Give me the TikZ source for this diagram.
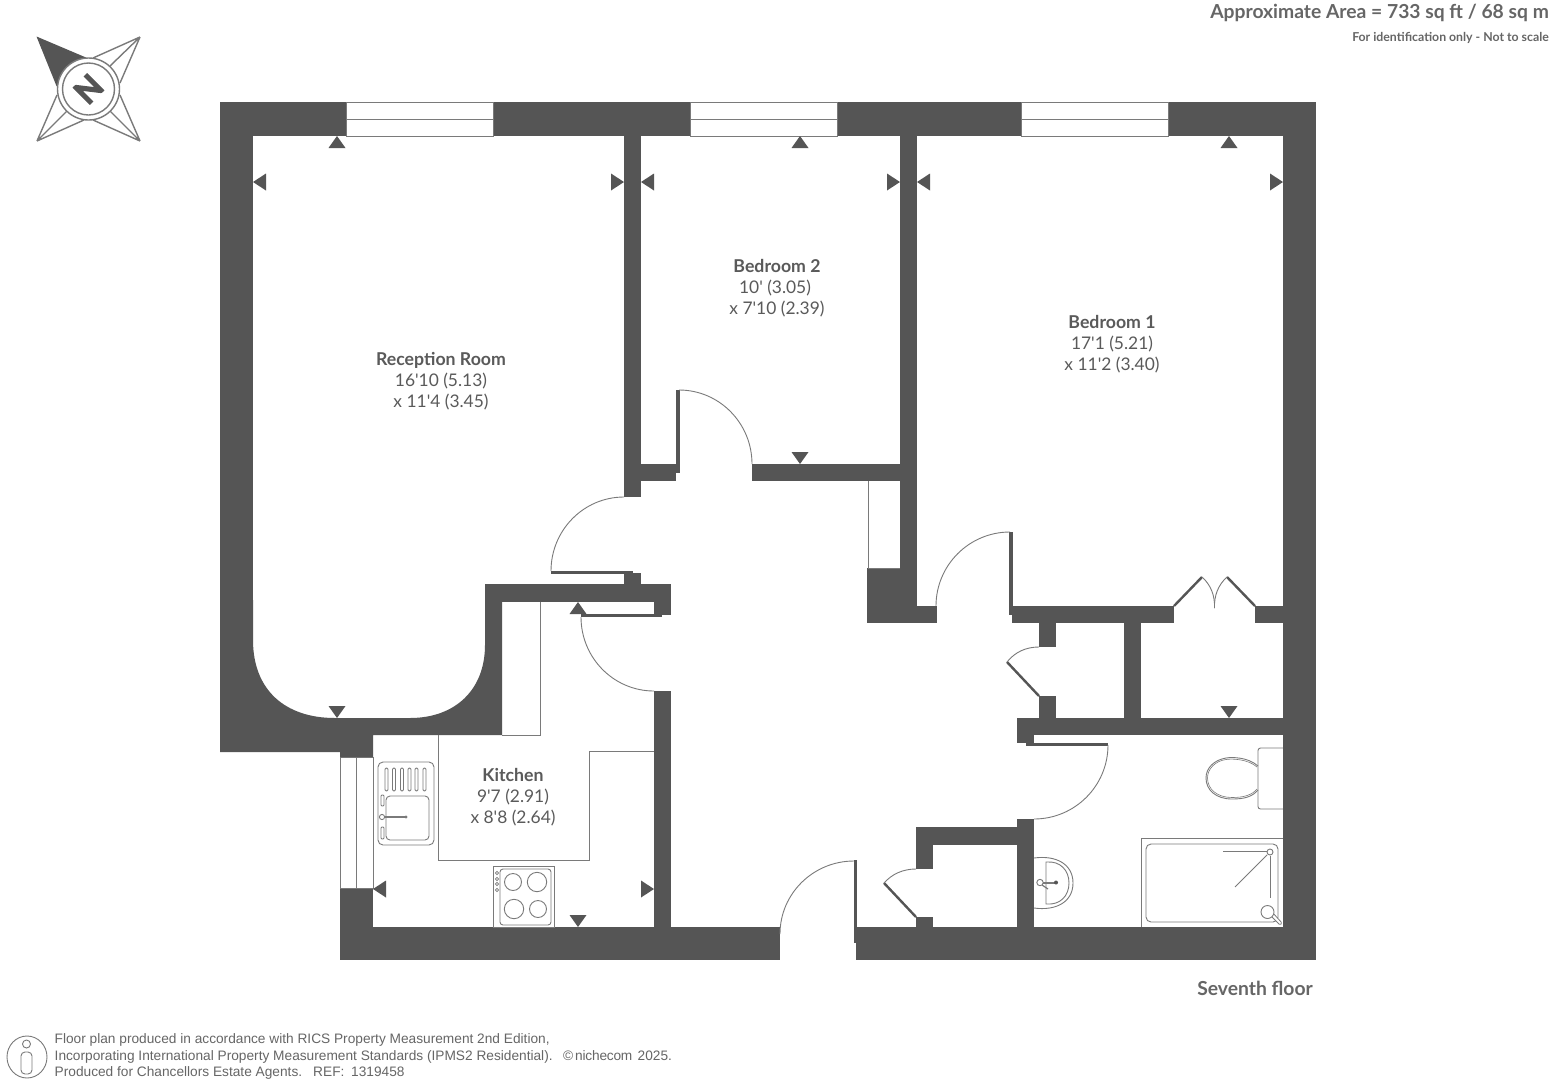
\documentclass[tikz,border=0pt]{standalone}
\usepackage{fontspec}
\usetikzlibrary{calc}
\newfontfamily\latofont{Lato}
\newfontfamily\arialfont{Liberation Sans}
\definecolor{wallc}{HTML}{555555}
\definecolor{linec}{HTML}{7A7A7A}
\definecolor{textc}{HTML}{5A5A5A}
\definecolor{foot}{HTML}{666666}
\newcommand{\wallrect}[2]{\fill[wallc] (#1) rectangle (#2);}
\newcommand{\triU}[2]{\fill[wallc] (#1,#2) -- ++(-8.5,12) -- ++(17,0) -- cycle;}
\newcommand{\triD}[2]{\fill[wallc] (#1,#2) -- ++(-8.5,-12) -- ++(17,0) -- cycle;}
\newcommand{\triL}[2]{\fill[wallc] (#1,#2) -- ++(13,-8.5) -- ++(0,17) -- cycle;}
\newcommand{\triR}[2]{\fill[wallc] (#1,#2) -- ++(-13,-8.5) -- ++(0,17) -- cycle;}
\newcommand{\qarc}[3]{\draw[fine] (#1) .. controls ($(#1)!0.5523!(#2)$) and ($(#3)!0.5523!(#2)$) .. (#3);}
\newcommand{\winh}[2]{\draw[fine,fill=white] (#1,102) rectangle (#2,136); \draw[fine] (#1,119) -- (#2,119);}
\tikzset{
  fine/.style={draw=linec,line width=0.9pt},
  comp/.style={draw=linec,line width=1.4pt,line join=round},
  leaf/.style={draw=wallc,line width=2.4pt},
  rname/.style={font=\latofont\bfseries\fontsize{17.7}{19}\selectfont,text=textc,inner sep=0pt,anchor=base},
  rdim/.style={font=\latofont\fontsize{17.4}{19}\selectfont,text=textc,inner sep=0pt,anchor=base},
  footnote/.style={font=\arialfont\fontsize{13.7}{15}\selectfont,text=foot,inner sep=0pt,anchor=base west},
}
\begin{document}
\begin{tikzpicture}[x=1pt,y=-1pt]
\useasboundingbox (0,0) rectangle (1553,1085);
\fill[white] (0,0) rectangle (1553,1085);

% compass
\fill[wallc] (36.5,36.5) -- (86,57.5) -- (88.5,89) -- (56.5,86) -- cycle;
\draw[comp] (140,37) -- (93,58) (140,37) -- (120,83) (140,37) -- (110,66)
  (37,141) -- (57,95) (37,141) -- (84,120) (37,141) -- (67,111)
  (140,141) -- (93,120) (140,141) -- (120,95) (140,141) -- (110,111);
\draw[comp,fill=white] (88.5,89) circle[radius=31pt];
\draw[comp] (88.5,89) circle[radius=26pt];
\node[rotate=45,text=wallc,font=\latofont\bfseries\fontsize{32}{32}\selectfont\addfontfeature{FakeBold=4},inner sep=0pt] (north) at (88.5,89) {N};

% outer and long walls
\wallrect{220,102}{346,136}
\wallrect{493,102}{690,136}
\wallrect{837,102}{1021,136}
\wallrect{1168,102}{1316,136}
\wallrect{220,102}{253,700}
\wallrect{1283,102}{1316,960}
\wallrect{340,927}{780,960}
\wallrect{856,927}{1316,960}
\wallrect{340,888}{373,960}
\winh{346}{493}
\winh{690}{837}
\winh{1021}{1168}
% kitchen window
\draw[fine] (340,757) rectangle (373,888);
\draw[fine] (356.5,757) -- (356.5,888);

% reception lower wall
\fill[wallc] (220,600) -- (253,600) -- (253,640)
  .. controls (253,690) and (285,718) .. (335,718) -- (410,718)
  .. controls (455,718) and (485,690) .. (485,645) -- (485,584) -- (502,584) -- (502,735)
  -- (373,735) -- (373,757) -- (340,757) -- (340,752) -- (220,752) -- cycle;

% partitions
\wallrect{624,136}{641,497}
\wallrect{900,136}{917,623}
\wallrect{641,464}{676,481}
\wallrect{676,390}{680,473}
\wallrect{752,464}{917,481}
\wallrect{867,568}{917,623}
\wallrect{900,606}{937,623}
\wallrect{1009,532}{1013,615}
\wallrect{1012,606}{1174,623}
\wallrect{1255,606}{1283,623}
\wallrect{1039,623}{1056,647}
\wallrect{1039,696}{1056,718}
\wallrect{1124,623}{1141,718}
\wallrect{1017,718}{1283,735}
\wallrect{1017,735}{1034,743}
\wallrect{1026,743}{1108,746}
\wallrect{1017,819}{1034,927}
\wallrect{916,827}{1017,845}
\wallrect{916,827}{933,869}
\wallrect{916,917}{933,927}
\wallrect{854,860}{857,943}
\wallrect{654,691}{671,927}
\wallrect{624,573}{641,584}
\wallrect{551,571}{633,574}
\wallrect{485,584}{671,602}
\wallrect{654,602}{671,615}
\wallrect{581,614}{662,617}
\draw[leaf] (1174,606) -- (1202,577);
\draw[leaf] (1255,606) -- (1227,577);
\draw[leaf] (1039,696) -- (1007,662);
\draw[leaf] (916,917) -- (884,883);

% door arcs
\qarc{624,497}{551,497}{551,571}
\qarc{679,390}{752,390}{752,464}
\qarc{581,617}{581,691}{654,691}
\qarc{936,606}{936,532}{1010,532}
\qarc{1108,745}{1108,819}{1034,819}
\qarc{854,861}{780,861}{780,934}
\draw[fine] (1007,662) .. controls (1015,652) and (1026,647) .. (1039,647);
\draw[fine] (884,883) .. controls (892,874) and (903,869) .. (916,869);
\draw[fine] (1202,577) .. controls (1211,585) and (1215,596) .. (1214.5,608);
\draw[fine] (1227,577) .. controls (1218,585) and (1214,596) .. (1214.5,608);

% cupboards and kitchen units
\draw[fine] (868,481) -- (868,568) -- (900,568);
\draw[fine] (540,602) -- (540,735) -- (502,735);
\draw[fine] (438,735) -- (438,860) -- (589,860) -- (589,751) -- (654,751);

% sink
\draw[fine,rounded corners=5pt] (378,762) rectangle (434,845);
\foreach \sx in {386.5,394,402,409.5,416.5,424.5}
  \draw[fine,rounded corners=1.3pt] (\sx-1.5,768) rectangle (\sx+1.5,791);
\draw[fine,rounded corners=4pt] (386,796) rectangle (429,840);
\draw[fine] (382,817) circle[radius=2.6pt];
\draw[fine,line width=1.4pt] (385,817) -- (406,817);
\fill[linec] (406,817) circle[radius=1.6pt];
\draw[fine,rounded corners=1pt] (381,795) rectangle (384,806);
\draw[fine,rounded corners=1pt] (381,827) rectangle (384,839);

% hob
\draw[fine] (493,866) rectangle (554,927);
\draw[fine,rounded corners=3pt] (500,869) rectangle (551,925);
\foreach \kx/\ky/\kr in {513/882/8.5,537/882/9.7,514/909/9.7,538/909/8.5}
  \draw[fine] (\kx,\ky) circle[radius=\kr pt];
\foreach \ky in {873,879,884,890}
  \draw[fine,line width=0.7pt] (497,\ky) circle[radius=1.7pt];

% toilet
\draw[fine,rounded corners=2.5pt] (1283,748) -- (1258,748) -- (1258,809) -- (1283,809);
\draw[fine] (1258,766) .. controls (1248,757) and (1232,757) .. (1226,758)
  .. controls (1214,760) and (1206,768) .. (1206,778)
  .. controls (1206,790) and (1216,799) .. (1232,799)
  .. controls (1244,799) and (1252,797) .. (1258,790);
\draw[fine,line width=0.6pt] (1257,767) .. controls (1248,759) and (1232,758.5) .. (1226,759.5)
  .. controls (1215,761) and (1207.5,769) .. (1207.5,778)
  .. controls (1207.5,789) and (1217,797.5) .. (1232,797.5)
  .. controls (1244,797.5) and (1252,795) .. (1257,789);

% bath
\draw[fine] (1141,927) -- (1141,838) -- (1283,838);
\draw[fine,rounded corners=5pt] (1146,844) rectangle (1278,922);
\draw[fine] (1270,852) circle[radius=3pt];
\draw[fine] (1223,851) -- (1267,851);
\draw[fine] (1267,855) -- (1235,887);
\draw[fine] (1270,856) -- (1270,898);
\draw[fine,fill=white,rounded corners=1pt,line width=0.8pt] (1271,916) -- (1280,925) -- (1282,923) -- (1273,913) -- cycle;
\draw[fine,fill=white] (1267.5,912) circle[radius=6.5pt];

% basin
\draw[fine] (1034,858) .. controls (1056,855) and (1073,864) .. (1073,883)
  .. controls (1073,902) and (1056,911) .. (1034,908);
\draw[fine] (1047,862) .. controls (1060,861) and (1069,870) .. (1069,883)
  .. controls (1069,896) and (1060,905) .. (1047,904) -- (1046,904) -- (1046,862) -- cycle;
\draw[fine,fill=white] (1040,882.5) circle[radius=3.2pt];
\draw[fine,line width=2pt] (1043,882.5) -- (1055,882.5);
\draw[fine,line width=1.2pt] (1042,885) -- (1048,889);
\fill[wallc] (1056,882.5) circle[radius=2pt];

% dimension triangles
\triU{337}{136} \triL{253}{182} \triR{624}{182} \triD{337}{718}
\triU{800}{136} \triL{641}{182} \triR{900}{182} \triD{800}{464}
\triU{1229}{136} \triL{917}{182} \triR{1283}{182} \triD{1229}{718}
\triU{578}{602} \triL{373}{889} \triR{654}{889} \triD{578}{927}

% room labels
\node[rname] (rr) at (441,365) {Reception Room};
\node[rdim] (rr1) at (441,386) {16'10 (5.13)};
\node[rdim] (rr2) at (441,407) {x 11'4 (3.45)};
\node[rname] (b2) at (777,272) {Bedroom 2};
\node[rdim] (b21) at (775,293) {10' (3.05)};
\node[rdim] (b22) at (777,314) {x 7'10 (2.39)};
\node[rname] (b1) at (1112,328) {Bedroom 1};
\node[rdim] (b11) at (1112,349) {17'1 (5.21)};
\node[rdim] (b12) at (1112,370) {x 11'2 (3.40)};
\node[rname] (k) at (513,781) {Kitchen};
\node[rdim] (k1) at (513,802) {9'7 (2.91)};
\node[rdim] (k2) at (513,823) {x 8'8 (2.64)};

% header and floor
\node[anchor=base east,inner sep=0pt,text=foot,font=\latofont\bfseries\fontsize{19.3}{21}\selectfont] (area) at (1549,18) {Approximate Area = 733 sq ft / 68 sq m};
\node[anchor=base east,inner sep=0pt,text=foot,font=\latofont\bfseries\fontsize{12.3}{14}\selectfont] (ident) at (1549,41) {For identification only - Not to scale};
\node[anchor=base east,inner sep=0pt,text=foot,font=\latofont\bfseries\fontsize{19.3}{21}\selectfont] (floor) at (1313,995) {Seventh floor};

% footer
\draw[fine] (27,1057) ellipse[x radius=20pt,y radius=21pt];
\draw[fine] (26.5,1044) circle[radius=4pt];
\draw[fine,rounded corners=4pt] (21,1052) rectangle (32,1074);
\node[footnote] (f1) at (54.5,1043.5) {Floor plan produced in accordance with RICS Property Measurement 2nd Edition,};
\node[footnote] (f2) at (54.5,1060) {Incorporating International Property Measurement Standards (IPMS2 Residential).};
\node[footnote] (f3) at (54.5,1076.5) {Produced for Chancellors Estate Agents.\hspace{6pt} REF:\hspace{3pt} 1319458};
\node[footnote] (f4) at (563,1060) {©};
\node[footnote] (f5) at (575,1060) {\addfontfeature{LetterSpace=-1.5}nichecom};
\node[footnote] (f6) at (637.5,1060) {2025.};
\end{tikzpicture}
\end{document}
